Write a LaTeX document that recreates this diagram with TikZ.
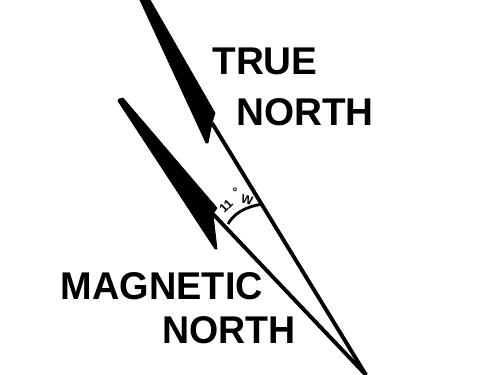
\documentclass[tikz,border=0pt]{standalone}
\usepackage{fontspec}
\setmainfont{Liberation Sans}
\usetikzlibrary{calc, positioning}
\tikzset{
  bearing/.style={line width=2.2pt, line join=round},
  wedge/.style={fill=black, draw=black, line width=0.4pt, line join=round},
  northlabel/.style={inner sep=0pt, font=\fontsize{22}{24}\selectfont\bfseries},
  anglelabel/.style={inner sep=0pt, font=\fontsize{7}{8}\selectfont\bfseries}
}
\begin{document}
\begin{tikzpicture}[x=0.02cm,y=-0.02cm]
\useasboundingbox (0,0) rectangle (481,375);

\coordinate (Apex) at (366,375);
\coordinate (TrueNotch) at (212,123);
\coordinate (MagNotch) at (213,214);
\coordinate (ArcM) at (228,224);
\coordinate (ArcT) at (263,204);

% bearing lines
\draw[bearing] (Apex) -- (TrueNotch);
\draw[bearing] (Apex) -- (MagNotch);

% feathers
\fill[wedge] (139,-2) -- (149,-2) -- (215,113) -- (TrueNotch) -- (208,143)
  -- (206,143) -- cycle;
\fill[wedge] (118,101) -- (119,99) -- (123,98) -- (217,208) -- (MagNotch)
  -- (217,249) -- (215,249) -- cycle;

% angle arc
\draw[line width=1.6pt] (ArcM) .. controls (233,215) and (243,207) .. (ArcT);

\node[anglelabel, rotate=45] (eleven) at (226,206) {11};
\node[anglelabel] (degree) at (235,192) {°};
\node[anglelabel, rotate=-15] (west) at (247,200) {W};

\node[northlabel] (trueword) at (265,61) {TRUE};
\node[northlabel, anchor=east] (truenorth) at (374,112) {NORTH};
\node[northlabel, xscale=0.98] (magword) at (162,286) {MAGNETIC};
\node[northlabel, xscale=0.97] (magnorth) at (229,330) {NORTH};
\end{tikzpicture}
\end{document}
